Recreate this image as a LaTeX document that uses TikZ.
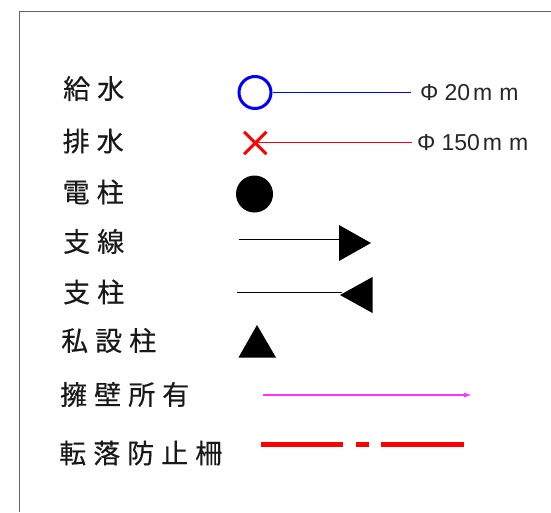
\documentclass[tikz,border=0pt]{standalone}
\usepackage{fontspec}
\setmainfont[FakeBold=0.4]{Noto Sans CJK JP}
\newfontfamily\latinfont{Liberation Sans}
\usetikzlibrary{arrows.meta}
\definecolor{frame}{RGB}{100,100,100}
\definecolor{mag}{RGB}{255,50,255}
\newcommand{\gp}{\hspace{7pt}}
\tikzset{
  x=1pt,y=-1pt,
  lab/.style={anchor=west,inner sep=0pt,font=\fontsize{27}{27}\selectfont,text=black!90},
  dim/.style={anchor=west,inner sep=0pt,font=\latinfont\fontsize{23}{23}\selectfont,text=black!85},
  thinln/.style={line width=1pt},
  solidtri/.style={fill=black,draw=none},
}
\begin{document}
\begin{tikzpicture}
\useasboundingbox (0,0) rectangle (551,512);
\draw[frame,line width=1pt] (19.3,512) -- (19.3,11.3) -- (551,11.3);
% labels
\node[lab] (l1) at (63,88.5) {給\gp 水};
\node[lab] (l2) at (62.5,141) {排\gp 水};
\node[lab] (l3) at (62.5,192) {電\gp 柱};
\node[lab] (l4) at (63,241.5) {支\gp 線};
\node[lab] (l5) at (63,292) {支\gp 柱};
\node[lab] (l6) at (61,340.5) {私\gp 設\gp 柱};
\node[lab] (l7) at (60,394.5) {擁\gp 壁\gp 所\gp 有};
\node[lab] (l8) at (59,453) {転\gp 落\gp 防\gp 止\gp 柵};
% water
\node[circle,draw=blue,line width=3pt,minimum size=32pt,inner sep=0pt] (w) at (255,92.5) {};
\coordinate (wend) at (411,92);
\draw[blue,thinln] (w.east |- wend) -- (wend);
\node[dim] (d1) at (420,93) {Φ\hspace{6pt}20\hspace{3pt}m\hspace{7pt}m};
% drain
\node[inner sep=0pt,minimum size=22pt] (x) at (255.3,143) {};
\draw[red,line width=3pt] (x.north west) -- (x.south east) (x.north east) -- (x.south west);
\coordinate (xend) at (411.5,142.7);
\draw[red,line width=1.2pt] (x.center |- xend) ++(3,0) -- (xend);
\node[dim] (d2) at (417,143) {Φ\hspace{6pt}150\hspace{3pt}m\hspace{7pt}m};
% pole
\node[circle,fill=black,minimum size=37pt,inner sep=0pt] (p) at (254.5,194) {};
% guy wire
\coordinate (g0) at (239,239);
\coordinate (g1) at (339,239);
\draw[black,thinln] (g0) -- (g1);
\fill[solidtri] (339,225) -- (371,243) -- (339,261) -- cycle;
% strut
\coordinate (s0) at (237,292);
\coordinate (s1) at (342,292);
\draw[black,thinln] (s0) -- (s1);
\fill[solidtri] (372.5,277) -- (340,295) -- (372.5,313) -- cycle;
% private pole
\fill[solidtri] (257,325) -- (276,357.5) -- (238.5,357.5) -- cycle;
% retaining wall
\coordinate (m0) at (263,395);
\coordinate (m1) at (472,395);
\draw[mag,line width=1.5pt,-{Latex[length=8pt,width=5pt]}] (m0) -- (m1);
% fence
\coordinate (f0) at (261,444.5);
\coordinate (f1) at (343,444.5);
\coordinate (f2) at (356,444.5);
\coordinate (f3) at (369,444.5);
\coordinate (f4) at (381,444.5);
\coordinate (f5) at (464,444.5);
\draw[red,line width=5pt] (f0) -- (f1) (f2) -- (f3) (f4) -- (f5);
\end{tikzpicture}
\end{document}
